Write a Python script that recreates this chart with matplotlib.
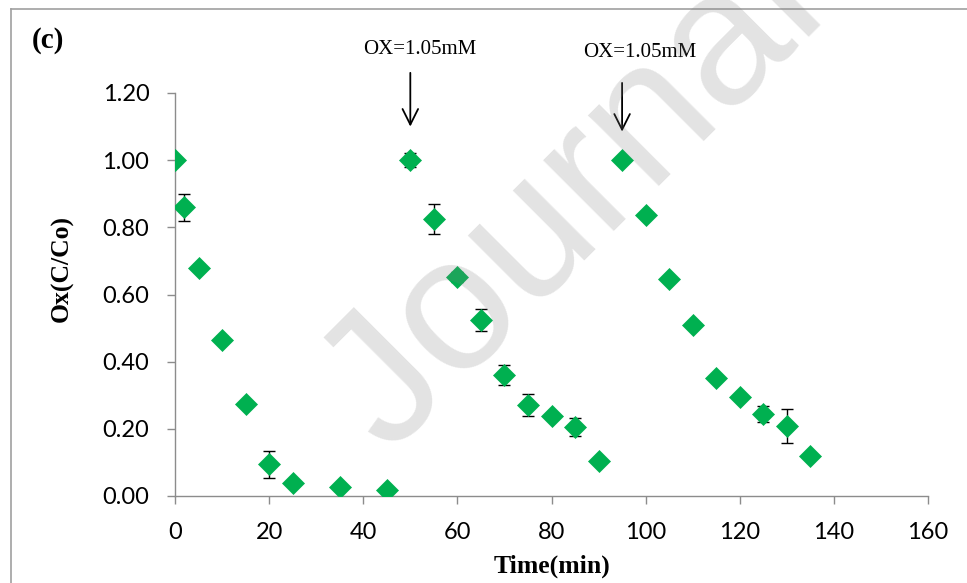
import matplotlib
matplotlib.use("Agg")
import matplotlib.pyplot as plt
from matplotlib.lines import Line2D

time_min = [0, 2, 5, 10, 15, 20, 25, 35, 45, 50, 55, 60, 65, 70, 75, 80, 85, 90,
            95, 100, 105, 110, 115, 120, 125, 130, 135]
ratio = [1.00, 0.86, 0.68, 0.465, 0.274, 0.095, 0.039, 0.027, 0.018, 1.00, 0.825,
         0.652, 0.524, 0.36, 0.271, 0.238, 0.205, 0.104, 1.00, 0.837, 0.646, 0.509,
         0.351, 0.295, 0.244, 0.208, 0.12]
err = [0.005, 0.04, 0.01, 0.01, 0.01, 0.04, 0.008, 0.008, 0.008, 0.02, 0.045,
       0.015, 0.033, 0.03, 0.033, 0.008, 0.027, 0.008, 0.008, 0.01, 0.008, 0.008,
       0.01, 0.008, 0.025, 0.05, 0.008]
x_ticks = [0, 20, 40, 60, 80, 100, 120, 140, 160]
y_ticks = [0.0, 0.2, 0.4, 0.6, 0.8, 1.0, 1.2]
dose_times = [50, 95]
dose_label = "OX=1.05mM"

W, H = 967, 583
fig = plt.figure(figsize=(W / 100, H / 100), dpi=100)
ax = fig.add_axes([175 / W, 1 - 496 / H, (928 - 175) / W, (496 - 93) / H])

axis_grey = "#8c8c8c"
green = "#00B050"

ax.errorbar(time_min, ratio, yerr=err, fmt="none", ecolor="black", elinewidth=1.0,
            capsize=4.5, capthick=1.0, zorder=2)
ax.plot(time_min, ratio, linestyle="none", marker="D", markersize=11.5,
        markerfacecolor=green, markeredgecolor=green, markeredgewidth=0.5, zorder=3)

ax.set_xlim(0, 160)
ax.set_ylim(0, 1.2)
ax.set_xticks(x_ticks)
ax.set_yticks(y_ticks)
ax.set_yticklabels([f"{v:.2f}" for v in y_ticks])
for s in ["top", "right"]:
    ax.spines[s].set_visible(False)
for s in ["left", "bottom"]:
    ax.spines[s].set_color(axis_grey)
    ax.spines[s].set_linewidth(1.0)
ax.tick_params(axis="both", direction="out", length=5.5, width=1.0, color=axis_grey,
               labelsize=17, labelcolor="black")
for lab in ax.get_xticklabels() + ax.get_yticklabels():
    lab.set_fontfamily("Lato")
ax.tick_params(axis="x", pad=13)
ax.tick_params(axis="y", pad=13)

serif = "Liberation Serif"
fig.text(552 / W, 1 - 566 / H, "Time(min)", ha="center", va="center",
         fontsize=18.5, fontweight="bold", family=serif)
fig.text(62 / W, 1 - 269 / H, "Ox(C/Co)", ha="center", va="center", rotation=90,
         fontsize=18.5, fontweight="bold", family=serif)
fig.text(48 / W, 1 - 40 / H, "(c)", ha="center", va="center",
         fontsize=21, fontweight="bold", family=serif)

# dose annotations
label_pos = [(51.9, 1.331), (98.8, 1.322)]
arrow_spans = [(1.26, 1.10), (1.23, 1.085)]
for t, (lx, ly), (y0, y1) in zip(dose_times, label_pos, arrow_spans):
    ax.annotate("", xy=(t, y1), xytext=(t, y0), annotation_clip=False,
                arrowprops=dict(arrowstyle="->", color="black", lw=1.3,
                                mutation_scale=28, shrinkA=0, shrinkB=0))
    ax.text(lx, ly, dose_label, ha="center", va="center", fontsize=15,
            family=serif, clip_on=False)

# outer frame (top and left)
fig.add_artist(Line2D([11 / W, 11 / W], [0, 1 - 9 / H], color="#a0a0a0", lw=1.2,
                      transform=fig.transFigure))
fig.add_artist(Line2D([11 / W, 1], [1 - 9 / H, 1 - 9 / H], color="#a0a0a0", lw=1.2,
                      transform=fig.transFigure))

# watermark
fig.text(388 / W, 1 - 455 / H, "Journal", rotation=45, rotation_mode="anchor",
         ha="left", va="baseline", fontsize=137, family="Liberation Sans",
         color="#808080", alpha=0.22, zorder=10)

fig.savefig("out.png", dpi=100)
